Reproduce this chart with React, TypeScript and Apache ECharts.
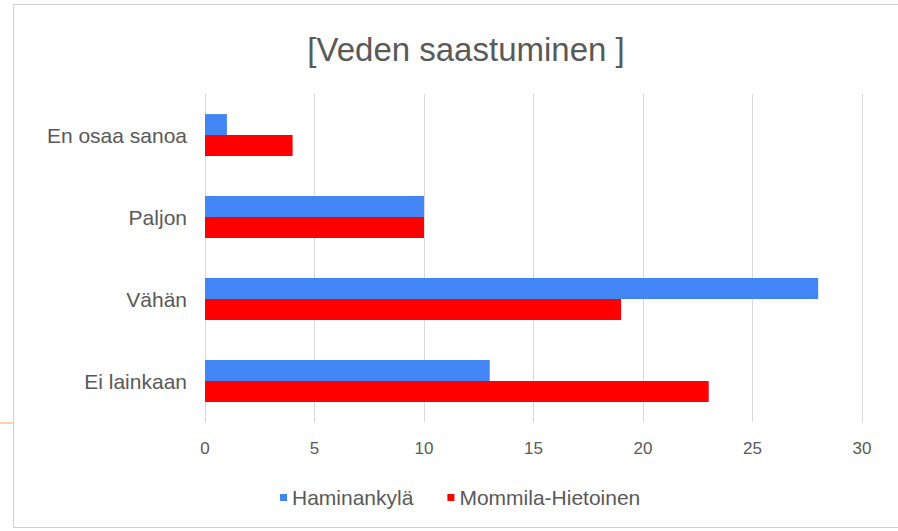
import React, { useEffect, useRef } from "react";
import * as echarts from "echarts";

const categories = ["En osaa sanoa", "Paljon", "Vähän", "Ei lainkaan"];
const haminankyla = [1, 10, 28, 13];
const mommila = [4, 10, 19, 23];
const seriesNames = ["Haminankylä", "Mommila-Hietoinen"];
const xTicks = [0, 5, 10, 15, 20, 25, 30];

const FONT = "'Liberation Sans', Arial, sans-serif";

export default function App() {
  const ref = useRef<HTMLDivElement>(null);
  useEffect(() => {
    document.body.style.margin = "0";
    const chart = echarts.init(ref.current!, null, { renderer: "svg" });
    chart.setOption({
      animation: false,
      backgroundColor: "#ffffff",
      title: {
        text: "[Veden saastuminen ]",
        left: 461,
        textAlign: "center",
        top: 28,
        textStyle: { fontFamily: FONT, fontSize: 33, fontWeight: "normal", color: "#595959" },
      },
      legend: {
        data: seriesNames,
        top: 482,
        left: 275,
        itemWidth: 7,
        itemHeight: 7,
        itemGap: 34,
        icon: "rect",
        textStyle: { fontFamily: FONT, fontSize: 21, color: "#595959", padding: [0, 0, 0, 0] },
      },
      grid: { left: 205, right: 36, top: 94, bottom: 109, containLabel: false },
      xAxis: {
        type: "value",
        min: xTicks[0],
        max: xTicks[xTicks.length - 1],
        interval: 5,
        axisLine: { show: false },
        axisTick: { show: false },
        splitLine: { lineStyle: { color: "#d9d9d9", width: 1 } },
        axisLabel: { fontFamily: FONT, fontSize: 17, color: "#595959", margin: 18 },
      },
      yAxis: {
        type: "category",
        data: categories,
        inverse: true,
        axisLine: { show: false },
        axisTick: { show: false },
        axisLabel: { fontFamily: FONT, fontSize: 21, color: "#595959", margin: 18 },
      },
      series: [
        {
          name: seriesNames[0],
          type: "bar",
          data: haminankyla,
          itemStyle: { color: "#4285f4" },
          barGap: "0%",
          barCategoryGap: "49%",
        },
        {
          name: seriesNames[1],
          type: "bar",
          data: mommila,
          itemStyle: { color: "#ff0000" },
          barGap: "0%",
          barCategoryGap: "49%",
        },
      ],
      graphic: [
        {
          type: "rect",
          shape: { x: 13.5, y: 4.5, width: 900, height: 523 },
          style: { fill: "none", stroke: "#d0d0d0", lineWidth: 1 },
          silent: true,
        },
        {
          type: "line",
          shape: { x1: 0, y1: 423, x2: 13, y2: 423 },
          style: { stroke: "#f5d3b0", lineWidth: 2 },
          silent: true,
        },
      ],
    });
    return () => chart.dispose();
  }, []);
  return <div ref={ref} style={{ width: 898, height: 531 }} />;
}
